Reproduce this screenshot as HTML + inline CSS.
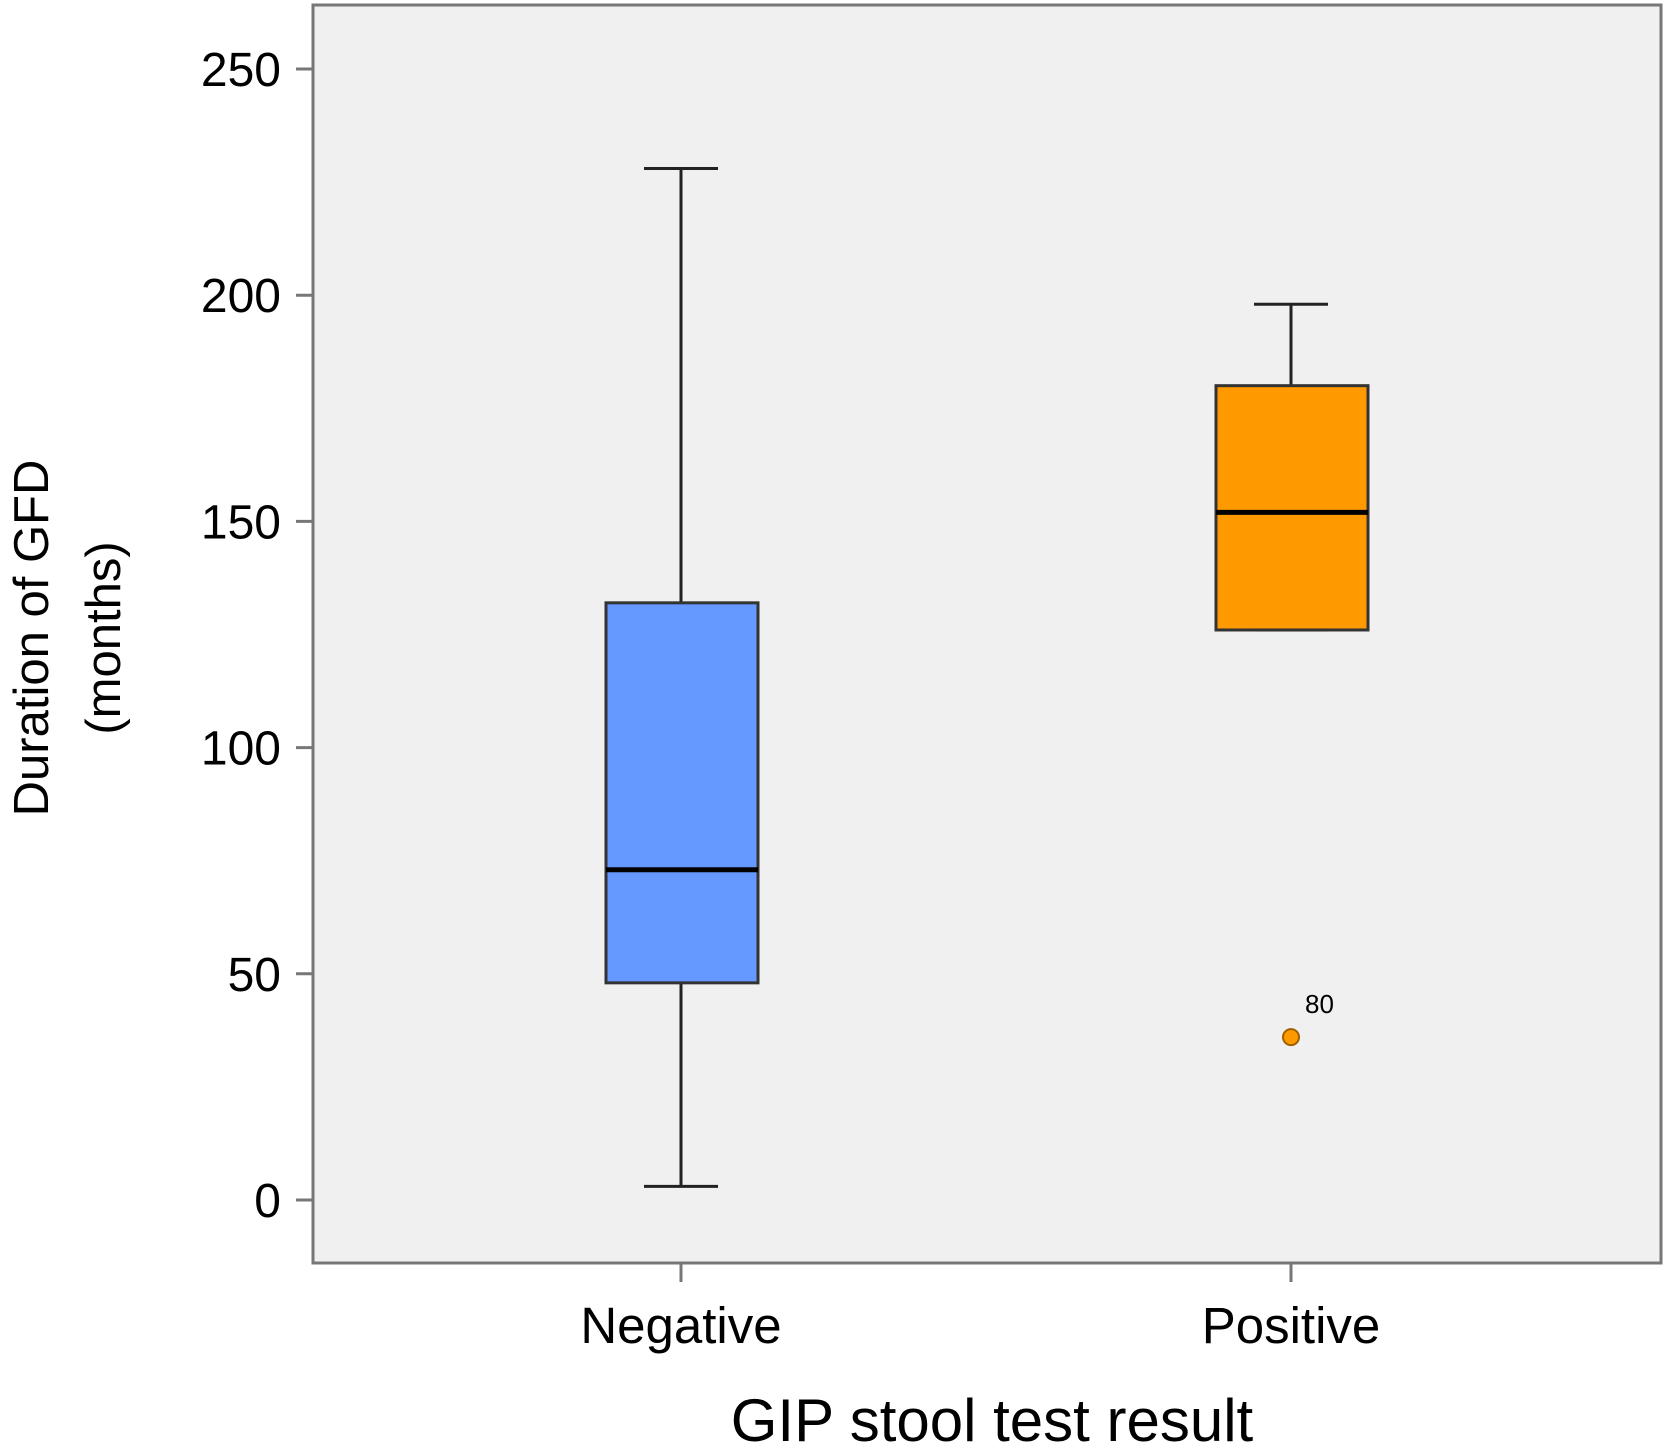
<!DOCTYPE html>
<html><head><meta charset="utf-8"><style>
html,body{margin:0;padding:0;background:#fff}
svg{display:block}
text{font-family:"Liberation Sans",sans-serif;fill:#000}
</style></head><body>
<svg id="chart" width="1667" height="1453" viewBox="0 0 1667 1453">
<rect x="313" y="5" width="1348" height="1258" fill="#f0f0f0" stroke="#777" stroke-width="3"/>
<g id="yaxis"></g>
<g id="xaxis"></g>
<g id="boxes"></g>
<text x="0" y="0" transform="translate(48,638) rotate(-90)" text-anchor="middle" font-size="49">Duration of GFD</text>
<text x="0" y="0" transform="translate(120,638) rotate(-90)" text-anchor="middle" font-size="49">(months)</text>
<text x="992" y="1441" text-anchor="middle" font-size="60">GIP stool test result</text>
</svg>
<script>
const categories=["Negative","Positive"];
const whiskerLow=[3,126];
const q1=[48,126];
const median=[73,152];
const q3=[132,180];
const whiskerHigh=[228,198];
const outlierValues=[[],[36]];
const outlierLabels=[[],["80"]];
const yTicks=[0,50,100,150,200,250];
const colors=["#6699ff","#ff9900"];
const NS="http://www.w3.org/2000/svg";
const y=v=>1200-v*4.524;
const xc=i=>681+i*610;
function mk(tag,attrs,parent,txt){const e=document.createElementNS(NS,tag);for(const k in attrs)e.setAttribute(k,attrs[k]);if(txt!==undefined)e.textContent=txt;parent.appendChild(e);return e;}
const ya=document.getElementById('yaxis'),xa=document.getElementById('xaxis'),bx=document.getElementById('boxes');
yTicks.forEach(t=>{
 const l=mk('line',{x1:296,x2:313,y1:y(t),y2:y(t),stroke:'#777','stroke-width':3},ya);
 
 
 const tx=mk('text',{x:281,y:y(t)+17,'text-anchor':'end','font-size':48},ya,String(t));
 
 
});
categories.forEach((c,i)=>{
 const x=xc(i);
 const l=mk('line',{x1:x,x2:x,y1:1263,y2:1282,stroke:'#777','stroke-width':3},xa);
 
 
 const tx=mk('text',{x:x,y:1343,'text-anchor':'middle','font-size':51},xa,c);
 
 
 const g=mk('g',{},bx);
 
 
 mk('line',{x1:x,x2:x,y1:y(whiskerHigh[i]),y2:y(q3[i]),stroke:'#222','stroke-width':3},g);
 mk('line',{x1:x,x2:x,y1:y(q1[i]),y2:y(whiskerLow[i]),stroke:'#222','stroke-width':3},g);
 mk('line',{x1:x-37,x2:x+37,y1:y(whiskerHigh[i]),y2:y(whiskerHigh[i]),stroke:'#222','stroke-width':3},g);
 mk('line',{x1:x-37,x2:x+37,y1:y(whiskerLow[i]),y2:y(whiskerLow[i]),stroke:'#222','stroke-width':3},g);
 mk('rect',{x:x-75,y:y(q3[i]),width:152,height:y(q1[i])-y(q3[i]),fill:colors[i],stroke:'#333','stroke-width':3},g);
 mk('line',{x1:x-75,x2:x+77,y1:y(median[i]),y2:y(median[i]),stroke:'#000','stroke-width':5},g);
 outlierValues[i].forEach((v,j)=>{
  const p=mk('circle',{cx:x,cy:y(v),r:8,fill:colors[i],stroke:'#a06000','stroke-width':2},g);
  
  
  const lb=mk('text',{x:x+14,y:y(v)-24,'font-size':26,fill:'#555'},g,outlierLabels[i][j]);
  
  
 });
});
</script>
</body></html>
